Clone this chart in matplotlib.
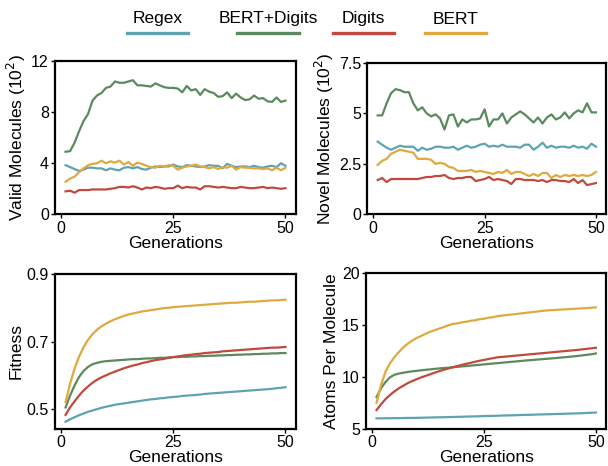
import numpy as np
import matplotlib
matplotlib.use('Agg')
import matplotlib.pyplot as plt
from matplotlib.lines import Line2D

plt.rcParams['font.family'] = ['Liberation Sans', 'DejaVu Sans']

# %% data
gens = np.arange(1, 51)
methods = ['Regex', 'BERT+Digits', 'Digits', 'BERT']
colors = ['#5fa3b1', '#5b8a5e', '#c04a3e', '#dfa940']

valid_regex = [3.85, 3.7, 3.55, 3.4, 3.5, 3.65, 3.65, 3.6, 3.6, 3.45, 3.6, 3.5, 3.45, 3.65, 3.7, 3.6, 3.7, 3.55, 3.5, 3.65,
               3.75, 3.7, 3.75, 3.75, 3.9, 3.75, 3.7, 3.85, 3.8, 3.75, 3.7, 3.75, 3.85, 3.8, 3.8, 3.6, 3.95, 3.8, 3.7, 3.75,
               3.75, 3.7, 3.8, 3.7, 3.65, 3.75, 3.8, 3.7, 4.0, 3.8]
valid_bert_digits = [4.9, 4.95, 5.6, 6.5, 7.3, 7.85, 8.9, 9.3, 9.5, 9.9, 10.0, 10.4, 10.3, 10.3, 10.4, 10.5, 10.1, 10.1, 10.05, 10.0,
                     10.25, 10.1, 9.95, 9.9, 9.9, 9.85, 9.55, 10.05, 9.7, 9.8, 9.35, 9.8, 9.6, 9.5, 9.2, 9.25, 9.55, 9.1, 9.45, 9.15,
                     8.95, 9.0, 9.3, 9.05, 9.1, 8.85, 8.8, 9.15, 8.8, 8.9]
valid_digits = [1.8, 1.85, 1.7, 1.9, 1.9, 1.9, 1.95, 1.95, 1.95, 1.95, 2.0, 2.05, 2.15, 2.15, 2.1, 2.2, 2.1, 1.95, 2.1, 2.05,
                2.15, 2.1, 2.0, 2.05, 2.05, 2.25, 2.05, 2.15, 2.1, 2.1, 1.95, 2.2, 2.2, 2.15, 2.1, 2.15, 2.1, 2.05, 2.05, 2.15,
                2.1, 2.05, 2.05, 2.1, 2.15, 2.05, 2.1, 2.05, 2.0, 2.05]
valid_bert = [2.55, 2.8, 2.95, 3.3, 3.6, 3.85, 3.95, 4.0, 4.2, 4.0, 4.15, 4.05, 4.2, 3.9, 4.1, 3.8, 4.05, 3.95, 3.8, 3.7,
              3.65, 3.8, 3.75, 3.85, 3.8, 3.5, 3.65, 3.75, 3.8, 3.9, 3.75, 3.7, 3.6, 3.7, 3.55, 3.7, 3.65, 3.8, 3.5, 3.7,
              3.65, 3.65, 3.6, 3.6, 3.55, 3.6, 3.45, 3.65, 3.45, 3.65]

novel_regex = [3.6, 3.45, 3.3, 3.2, 3.3, 3.4, 3.35, 3.35, 3.35, 3.15, 3.3, 3.2, 3.25, 3.35, 3.35, 3.3, 3.3, 3.35, 3.2, 3.3,
               3.4, 3.3, 3.35, 3.45, 3.5, 3.35, 3.4, 3.35, 3.45, 3.35, 3.35, 3.35, 3.3, 3.45, 3.45, 3.2, 3.35, 3.55, 3.3, 3.4,
               3.3, 3.35, 3.35, 3.3, 3.4, 3.3, 3.35, 3.25, 3.5, 3.35]
novel_bert_digits = [4.9, 4.9, 5.5, 6.0, 6.2, 6.15, 6.05, 6.05, 5.5, 5.15, 5.3, 5.0, 4.85, 4.95, 4.75, 4.2, 4.9, 4.95, 4.35, 4.7,
                     4.55, 4.7, 4.7, 4.75, 5.2, 4.35, 4.7, 4.7, 5.0, 4.5, 4.8, 4.95, 5.1, 4.95, 4.75, 4.55, 4.8, 4.5, 4.8, 4.95,
                     4.7, 4.8, 5.05, 4.75, 5.0, 5.15, 5.05, 5.5, 5.05, 5.05]
novel_digits = [1.7, 1.8, 1.6, 1.75, 1.75, 1.75, 1.75, 1.75, 1.75, 1.75, 1.8, 1.85, 1.85, 1.9, 1.9, 1.95, 1.8, 1.75, 1.8, 1.8,
                1.85, 1.85, 1.65, 1.7, 1.75, 1.85, 1.7, 1.75, 1.7, 1.65, 1.5, 1.75, 1.75, 1.7, 1.7, 1.7, 1.65, 1.7, 1.6, 1.7,
                1.7, 1.65, 1.65, 1.6, 1.75, 1.55, 1.7, 1.45, 1.5, 1.55]
novel_bert = [2.45, 2.65, 2.75, 3.0, 3.1, 3.2, 3.15, 3.1, 3.05, 2.75, 2.75, 2.75, 2.7, 2.5, 2.55, 2.5, 2.35, 2.3, 2.15, 2.15,
              2.15, 2.2, 2.1, 2.15, 2.1, 2.05, 2.0, 2.1, 2.05, 2.2, 2.0, 2.1, 2.1, 2.0, 1.9, 2.0, 1.9, 2.05, 2.05, 1.8,
              1.95, 1.85, 1.95, 1.9, 1.95, 1.9, 1.95, 1.9, 1.95, 2.1]

fit_regex = [0.463, 0.47, 0.476, 0.482, 0.487, 0.492, 0.496, 0.5, 0.504, 0.507, 0.51, 0.513, 0.515, 0.517, 0.519, 0.521, 0.523,
             0.525, 0.527, 0.529, 0.53, 0.532, 0.533, 0.535, 0.536, 0.537, 0.539, 0.54, 0.541, 0.542, 0.543, 0.545, 0.546,
             0.547, 0.548, 0.549, 0.55, 0.551, 0.552, 0.553, 0.554, 0.555, 0.556, 0.557, 0.558, 0.559, 0.56, 0.562, 0.563, 0.565]
fit_bert_digits = [0.505, 0.54, 0.57, 0.595, 0.613, 0.625, 0.633, 0.637, 0.64, 0.642, 0.643, 0.644, 0.645, 0.646, 0.647, 0.648,
                   0.648, 0.649, 0.65, 0.65, 0.651, 0.652, 0.652, 0.653, 0.654, 0.654, 0.655, 0.655, 0.656, 0.656, 0.657, 0.657,
                   0.658, 0.658, 0.659, 0.659, 0.66, 0.66, 0.661, 0.661, 0.662, 0.662, 0.663, 0.663, 0.664, 0.664, 0.665, 0.665,
                   0.666, 0.666]
fit_digits = [0.483, 0.505, 0.523, 0.54, 0.555, 0.567, 0.578, 0.587, 0.594, 0.6, 0.606, 0.611, 0.616, 0.621, 0.625, 0.629, 0.632,
              0.636, 0.639, 0.642, 0.645, 0.647, 0.649, 0.652, 0.654, 0.656, 0.658, 0.66, 0.661, 0.663, 0.664, 0.666, 0.667,
              0.668, 0.669, 0.671, 0.672, 0.673, 0.674, 0.675, 0.676, 0.677, 0.678, 0.679, 0.68, 0.681, 0.682, 0.682, 0.683, 0.684]
fit_bert = [0.521, 0.575, 0.62, 0.655, 0.683, 0.705, 0.722, 0.735, 0.745, 0.753, 0.76, 0.766, 0.771, 0.776, 0.78, 0.783, 0.786,
            0.789, 0.791, 0.793, 0.795, 0.797, 0.799, 0.8, 0.802, 0.803, 0.804, 0.805, 0.806, 0.807, 0.808, 0.809, 0.81, 0.811,
            0.812, 0.813, 0.814, 0.815, 0.815, 0.816, 0.817, 0.818, 0.818, 0.819, 0.82, 0.821, 0.822, 0.822, 0.823, 0.824]

atoms_regex = [6.0, 6.0, 6.01, 6.01, 6.02, 6.02, 6.03, 6.04, 6.04, 6.05, 6.06, 6.07, 6.08, 6.09, 6.1, 6.11, 6.12, 6.13, 6.14, 6.15,
               6.17, 6.18, 6.19, 6.2, 6.22, 6.23, 6.24, 6.25, 6.27, 6.28, 6.29, 6.3, 6.32, 6.33, 6.34, 6.35, 6.37, 6.38, 6.39, 6.4,
               6.42, 6.43, 6.44, 6.46, 6.47, 6.48, 6.5, 6.52, 6.54, 6.56]
atoms_bert_digits = [8.05, 8.9, 9.5, 9.95, 10.2, 10.32, 10.4, 10.47, 10.53, 10.58, 10.63, 10.68, 10.72, 10.77, 10.81, 10.85, 10.88,
                     10.92, 10.96, 11.0, 11.04, 11.08, 11.12, 11.16, 11.2, 11.24, 11.28, 11.32, 11.36, 11.4, 11.44, 11.48, 11.52,
                     11.56, 11.6, 11.63, 11.67, 11.7, 11.74, 11.77, 11.81, 11.85, 11.89, 11.93, 11.97, 12.02, 12.07, 12.12, 12.18, 12.25]
atoms_digits = [6.8, 7.35, 7.85, 8.25, 8.6, 8.9, 9.15, 9.4, 9.6, 9.78, 9.95, 10.1, 10.25, 10.4, 10.55, 10.68, 10.8, 10.92, 11.03,
                11.15, 11.25, 11.35, 11.45, 11.55, 11.63, 11.72, 11.8, 11.88, 11.92, 11.96, 12.0, 12.04, 12.08, 12.12, 12.16, 12.2,
                12.24, 12.28, 12.32, 12.36, 12.4, 12.44, 12.48, 12.52, 12.56, 12.6, 12.65, 12.7, 12.75, 12.8]
atoms_bert = [7.5, 9.2, 10.5, 11.3, 11.9, 12.4, 12.85, 13.2, 13.5, 13.75, 13.95, 14.15, 14.35, 14.5, 14.65, 14.8, 14.95, 15.1,
              15.15, 15.25, 15.3, 15.4, 15.45, 15.55, 15.6, 15.7, 15.75, 15.85, 15.9, 15.95, 16.0, 16.05, 16.1, 16.15, 16.2,
              16.25, 16.3, 16.35, 16.4, 16.42, 16.45, 16.48, 16.5, 16.53, 16.55, 16.58, 16.6, 16.63, 16.66, 16.7]

panels = [
	([valid_regex, valid_bert_digits, valid_digits, valid_bert], 'Valid Molecules (10$^2$)', (0, 12), [0, 4, 8, 12], ['0', '4', '8', '12']),
	([novel_regex, novel_bert_digits, novel_digits, novel_bert], 'Novel Molecules (10$^2$)', (0, 7.5), [0, 2.5, 5, 7.5], ['0', '2.5', '5', '7.5']),
	([fit_regex, fit_bert_digits, fit_digits, fit_bert], 'Fitness', (0.442, 0.9), [0.5, 0.7, 0.9], ['0.5', '0.7', '0.9']),
	([atoms_regex, atoms_bert_digits, atoms_digits, atoms_bert], 'Atoms Per Molecule', (5, 20), [5, 10, 15, 20], ['5', '10', '15', '20']),
]
# axes boxes in figure fractions
boxes = [
	[0.0905, 0.54, 0.396, 0.329],
	[0.604, 0.54, 0.393, 0.325],
	[0.0905, 0.08, 0.396, 0.332],
	[0.602, 0.08, 0.395, 0.334],
]

# %%
fig = plt.figure(figsize=(6.08, 4.66), dpi=100)

for (series, ylabel, ylim, yticks, yticklabels), box in zip(panels, boxes):
	ax = fig.add_axes(box)
	for vals, c in zip(series, colors):
		ax.plot(gens, vals, color=c, lw=1.6)
	ax.set_ylim(*ylim)
	ax.set_yticks(yticks)
	ax.set_yticklabels(yticklabels)
	ax.set_xticks([0, 25, 50])
	ax.set_xlim(-1.35, 52.3)
	ax.set_xlabel('Generations', fontsize=12.5, labelpad=0)
	ax.set_ylabel(ylabel, fontsize=12.5, labelpad=2)
	ax.tick_params(labelsize=11.5, length=3, width=1, pad=1.5, direction='out')
	for s in ax.spines.values():
		s.set_linewidth(1.6)

# legend: label above a short coloured bar
leg_x = [(127, 188), (237, 299), (333, 394), (425, 486)]
W, H = 608.0, 466.0
for name, c, (x0, x1) in zip(methods, colors, leg_x):
	fig.add_artist(Line2D([x0 / W, x1 / W], [1 - 33 / H, 1 - 33 / H], color=c, lw=2.4, transform=fig.transFigure))
	fig.text((x0 + x1) / 2 / W, 1 - 19 / H, name, ha='center', va='center', fontsize=12.5)

fig.savefig('out.png', dpi=100)
